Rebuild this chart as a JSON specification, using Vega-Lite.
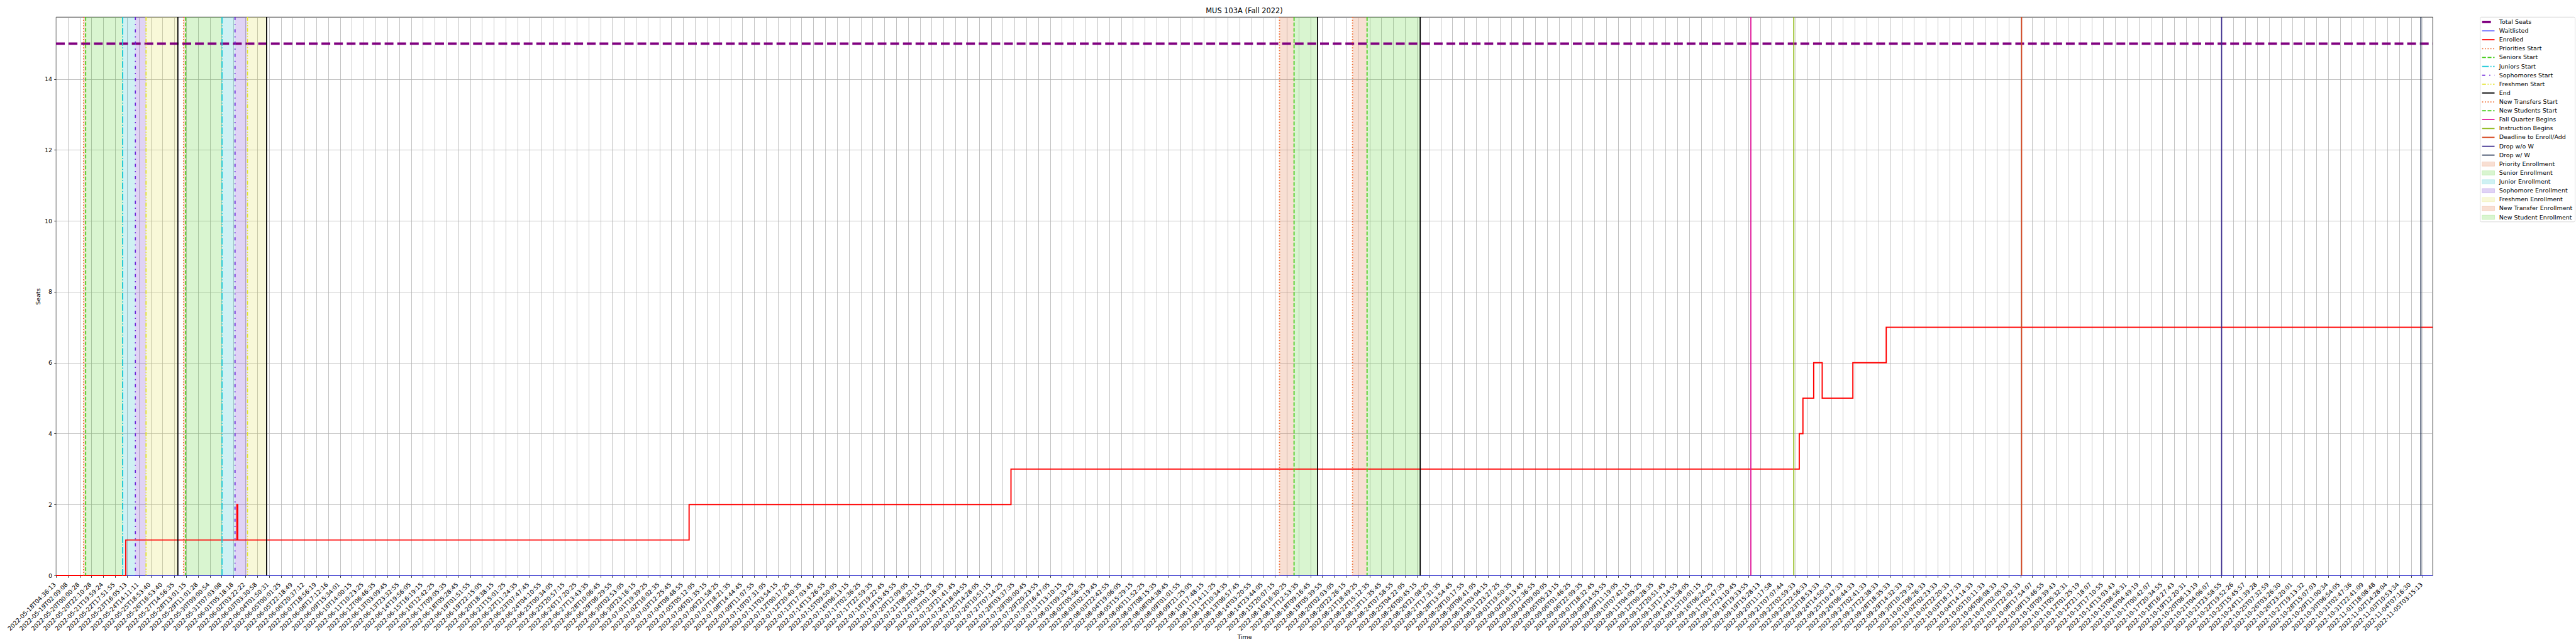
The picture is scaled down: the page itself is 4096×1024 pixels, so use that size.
{
  "$schema": "https://vega.github.io/schema/vega-lite/v6.json",
  "background": "white",
  "padding": {"left": 9, "top": 11, "right": 0, "bottom": 2},
  "config": {"font": "DejaVu Sans", "axisX": {"labelOverlap": false}},
  "params": [
    {"name": "tickLabels", "value": [
      "2022-05-18T04:36:13","2022-05-19T02:09:08","2022-05-20T00:00:28","2022-05-20T22:10:28","2022-05-21T19:59:24","2022-05-22T17:51:55","2022-05-23T16:05:13","2022-05-24T14:11:11","2022-05-25T18:53:40","2022-05-26T16:53:40",
      "2022-05-27T14:56:35","2022-05-28T13:01:15","2022-05-29T11:01:28","2022-05-30T09:00:54","2022-05-31T07:03:08","2022-06-01T05:18:18","2022-06-02T03:22:22","2022-06-03T03:30:58","2022-06-04T01:50:31","2022-06-05T00:01:25",
      "2022-06-05T22:18:49","2022-06-06T20:37:12","2022-06-07T18:56:19","2022-06-08T17:12:16","2022-06-09T15:34:01","2022-06-10T14:00:15","2022-06-11T10:23:25","2022-06-12T06:46:35","2022-06-13T03:09:45","2022-06-13T23:32:55",
      "2022-06-14T19:56:05","2022-06-15T16:19:15","2022-06-16T12:42:25","2022-06-17T09:05:35","2022-06-18T05:28:45","2022-06-19T01:51:55","2022-06-19T22:15:05","2022-06-20T18:38:15","2022-06-21T15:01:25","2022-06-22T11:24:35",
      "2022-06-23T07:47:45","2022-06-24T04:10:55","2022-06-25T00:34:05","2022-06-25T20:57:15","2022-06-26T17:20:25","2022-06-27T13:43:35","2022-06-28T10:06:45","2022-06-29T06:29:55","2022-06-30T02:53:05","2022-06-30T23:16:15",
      "2022-07-01T19:39:25","2022-07-02T16:02:35","2022-07-03T12:25:45","2022-07-04T08:48:55","2022-07-05T05:12:05","2022-07-06T01:35:15","2022-07-06T21:58:25","2022-07-07T18:21:35","2022-07-08T14:44:45","2022-07-09T11:07:55",
      "2022-07-10T07:31:05","2022-07-11T03:54:15","2022-07-12T00:17:25","2022-07-12T20:40:35","2022-07-13T17:03:45","2022-07-14T13:26:55","2022-07-15T09:50:05","2022-07-16T06:13:15","2022-07-17T02:36:25","2022-07-17T22:59:35",
      "2022-07-18T19:22:45","2022-07-19T15:45:55","2022-07-20T12:09:05","2022-07-21T08:32:15","2022-07-22T04:55:25","2022-07-23T01:18:35","2022-07-23T21:41:45","2022-07-24T18:04:55","2022-07-25T14:28:05","2022-07-26T10:51:15",
      "2022-07-27T07:14:25","2022-07-28T03:37:35","2022-07-29T00:00:45","2022-07-29T20:23:55","2022-07-30T16:47:05","2022-07-31T13:10:15","2022-08-01T09:33:25","2022-08-02T05:56:35","2022-08-03T02:19:45","2022-08-03T22:42:55",
      "2022-08-04T19:06:05","2022-08-05T15:29:15","2022-08-06T11:52:25","2022-08-07T08:15:35","2022-08-08T04:38:45","2022-08-09T01:01:55","2022-08-09T21:25:05","2022-08-10T17:48:15","2022-08-11T14:11:25","2022-08-12T10:34:35",
      "2022-08-13T06:57:45","2022-08-14T03:20:55","2022-08-14T23:44:05","2022-08-15T20:07:15","2022-08-16T16:30:25","2022-08-17T12:53:35","2022-08-18T09:16:45","2022-08-19T05:39:55","2022-08-20T02:03:05","2022-08-20T22:26:15",
      "2022-08-21T18:49:25","2022-08-22T15:12:35","2022-08-23T11:35:45","2022-08-24T07:58:55","2022-08-25T04:22:05","2022-08-26T00:45:15","2022-08-26T21:08:25","2022-08-27T17:31:35","2022-08-28T13:54:45","2022-08-29T10:17:55",
      "2022-08-30T06:41:05","2022-08-31T03:04:15","2022-08-31T23:27:25","2022-09-01T19:50:35","2022-09-02T16:13:45","2022-09-03T12:36:55","2022-09-04T09:00:05","2022-09-05T05:23:15","2022-09-06T01:46:25","2022-09-06T22:09:35",
      "2022-09-07T18:32:45","2022-09-08T14:55:55","2022-09-09T11:19:05","2022-09-10T07:42:15","2022-09-11T04:05:25","2022-09-12T00:28:35","2022-09-12T20:51:45","2022-09-13T17:14:55","2022-09-14T13:38:05","2022-09-15T10:01:15",
      "2022-09-16T06:24:25","2022-09-17T02:47:35","2022-09-17T23:10:45","2022-09-18T19:33:55","2022-09-19T15:28:13","2022-09-20T11:17:58","2022-09-21T07:07:44","2022-09-22T02:59:33","2022-09-22T22:56:33","2022-09-23T18:53:33",
      "2022-09-24T14:50:33","2022-09-25T10:47:33","2022-09-26T06:44:33","2022-09-27T02:41:33","2022-09-27T22:38:33","2022-09-28T18:35:33","2022-09-29T14:32:33","2022-09-30T10:29:33","2022-10-01T06:26:33","2022-10-02T02:23:33",
      "2022-10-02T22:20:33","2022-10-03T18:17:33","2022-10-04T14:14:33","2022-10-05T10:11:33","2022-10-06T06:08:33","2022-10-07T02:05:33","2022-10-07T22:02:33","2022-10-08T17:54:07","2022-10-09T13:46:55","2022-10-10T09:39:43",
      "2022-10-11T05:32:31","2022-10-12T01:25:19","2022-10-12T21:18:07","2022-10-13T17:10:55","2022-10-14T13:03:43","2022-10-15T08:56:31","2022-10-16T04:49:19","2022-10-17T00:42:07","2022-10-17T20:34:55","2022-10-18T16:27:43",
      "2022-10-19T12:20:31","2022-10-20T08:13:19","2022-10-21T04:06:07","2022-10-21T23:58:55","2022-10-22T19:52:26","2022-10-23T15:45:57","2022-10-24T11:39:28","2022-10-25T07:32:59","2022-10-26T03:26:30","2022-10-26T23:20:01",
      "2022-10-27T19:13:32","2022-10-28T15:07:03","2022-10-29T11:00:34","2022-10-30T06:54:05","2022-10-31T02:47:36","2022-10-31T22:41:09","2022-11-01T18:08:48","2022-11-02T14:28:04","2022-11-03T10:53:34","2022-11-04T07:16:30",
      "2022-11-05T03:15:13"
    ]}
  ],
  "datasets": {
    "spans": [
      {"name": "Priority Enrollment", "t": 2.33, "t2": 2.51},
      {"name": "Senior Enrollment", "t": 2.51, "t2": 5.63},
      {"name": "Junior Enrollment", "t": 5.63, "t2": 6.71},
      {"name": "Sophomore Enrollment", "t": 6.71, "t2": 7.61},
      {"name": "Freshmen Enrollment", "t": 7.61, "t2": 10.30},
      {"name": "Priority Enrollment", "t": 10.78, "t2": 10.96},
      {"name": "Senior Enrollment", "t": 10.96, "t2": 14.03},
      {"name": "Junior Enrollment", "t": 14.03, "t2": 15.13},
      {"name": "Sophomore Enrollment", "t": 15.13, "t2": 16.18},
      {"name": "Freshmen Enrollment", "t": 16.18, "t2": 17.80},
      {"name": "New Transfer Enrollment", "t": 103.39, "t2": 104.62},
      {"name": "New Student Enrollment", "t": 104.62, "t2": 106.61},
      {"name": "New Transfer Enrollment", "t": 109.56, "t2": 110.79},
      {"name": "New Student Enrollment", "t": 110.79, "t2": 115.28}
    ],
    "waitlisted": [
      {"t": 0, "seats": 0},
      {"t": 200.83, "seats": 0}
    ],
    "enrolled": [
      {"t": 0, "seats": 0},
      {"t": 5.90, "seats": 1},
      {"t": 15.29, "seats": 2},
      {"t": 15.36, "seats": 1},
      {"t": 53.5, "seats": 2},
      {"t": 80.7, "seats": 3},
      {"t": 147.31, "seats": 4},
      {"t": 147.62, "seats": 5},
      {"t": 148.53, "seats": 6},
      {"t": 149.25, "seats": 5},
      {"t": 151.84, "seats": 6},
      {"t": 154.66, "seats": 7},
      {"t": 200.83, "seats": 7}
    ],
    "total": [
      {"t": 0, "seats": 15},
      {"t": 200.83, "seats": 15}
    ],
    "events": [
      {"name": "Priorities Start", "t": 2.33},
      {"name": "Seniors Start", "t": 2.51},
      {"name": "Juniors Start", "t": 5.63},
      {"name": "Sophomores Start", "t": 6.71},
      {"name": "Freshmen Start", "t": 7.61},
      {"name": "End", "t": 10.30},
      {"name": "Priorities Start", "t": 10.78},
      {"name": "Seniors Start", "t": 10.96},
      {"name": "Juniors Start", "t": 14.03},
      {"name": "Sophomores Start", "t": 15.13},
      {"name": "Freshmen Start", "t": 16.18},
      {"name": "End", "t": 17.80},
      {"name": "New Transfers Start", "t": 103.39},
      {"name": "New Students Start", "t": 104.62},
      {"name": "End", "t": 106.61},
      {"name": "New Transfers Start", "t": 109.56},
      {"name": "New Students Start", "t": 110.79},
      {"name": "End", "t": 115.28},
      {"name": "Fall Quarter Begins", "t": 143.22},
      {"name": "Instruction Begins", "t": 146.85},
      {"name": "Deadline to Enroll/Add", "t": 166.1},
      {"name": "Drop w/o W", "t": 183.0},
      {"name": "Drop w/ W", "t": 199.84}
    ],
    "legend": [
      {"label": "Total Seats", "row": 0},
      {"label": "Waitlisted", "row": 1},
      {"label": "Enrolled", "row": 2},
      {"label": "Priorities Start", "row": 3},
      {"label": "Seniors Start", "row": 4},
      {"label": "Juniors Start", "row": 5},
      {"label": "Sophomores Start", "row": 6},
      {"label": "Freshmen Start", "row": 7},
      {"label": "End", "row": 8},
      {"label": "New Transfers Start", "row": 9},
      {"label": "New Students Start", "row": 10},
      {"label": "Fall Quarter Begins", "row": 11},
      {"label": "Instruction Begins", "row": 12},
      {"label": "Deadline to Enroll/Add", "row": 13},
      {"label": "Drop w/o W", "row": 14},
      {"label": "Drop w/ W", "row": 15},
      {"label": "Priority Enrollment", "row": 16},
      {"label": "Senior Enrollment", "row": 17},
      {"label": "Junior Enrollment", "row": 18},
      {"label": "Sophomore Enrollment", "row": 19},
      {"label": "Freshmen Enrollment", "row": 20},
      {"label": "New Transfer Enrollment", "row": 21},
      {"label": "New Student Enrollment", "row": 22}
    ]
  },
  "spacing": 75.3,
  "bounds": "flush",
  "resolve": {"scale": {"x": "independent", "y": "independent", "color": "independent", "fill": "independent", "stroke": "independent", "strokeDash": "independent"}},
  "hconcat": [
    {
      "width": 3779,
      "height": 888,
      "title": {"text": "MUS 103A (Fall 2022)", "fontSize": 11.4, "fontWeight": "normal", "font": "DejaVu Sans", "color": "black", "frame": "group", "anchor": "middle", "offset": 3},
      "view": {"stroke": "black", "strokeWidth": 0.76},
      "encoding": {
        "x": {"field": "t", "type": "quantitative", "title": "Time",
          "scale": {"domain": [0, 200.83], "nice": false, "zero": false},
          "axis": {
            "values": [0,1,2,3,4,5,6,7,8,9,10,11,12,13,14,15,16,17,18,19,20,21,22,23,24,25,26,27,28,29,30,31,32,33,34,35,36,37,38,39,40,41,42,43,44,45,46,47,48,49,50,51,52,53,54,55,56,57,58,59,60,61,62,63,64,65,66,67,68,69,70,71,72,73,74,75,76,77,78,79,80,81,82,83,84,85,86,87,88,89,90,91,92,93,94,95,96,97,98,99,100,101,102,103,104,105,106,107,108,109,110,111,112,113,114,115,116,117,118,119,120,121,122,123,124,125,126,127,128,129,130,131,132,133,134,135,136,137,138,139,140,141,142,143,144,145,146,147,148,149,150,151,152,153,154,155,156,157,158,159,160,161,162,163,164,165,166,167,168,169,170,171,172,173,174,175,176,177,178,179,180,181,182,183,184,185,186,187,188,189,190,191,192,193,194,195,196,197,198,199,200],
            "labelExpr": "tickLabels[datum.value]",
            "labelAngle": -45, "labelAlign": "right", "labelBaseline": "alphabetic",
            "labelPadding": 11.5, "labelOverlap": false, "labelBound": false, "labelFlush": false,
            "labelFontSize": 9.5, "labelColor": "black", "labelFont": "DejaVu Sans",
            "tickSize": 3.3, "tickColor": "black", "tickWidth": 0.76,
            "grid": true, "gridColor": "#b0b0b0", "gridWidth": 0.76,
            "domain": false,
            "title": "Time", "titleFontSize": 9.5, "titleFontWeight": "normal", "titleColor": "black", "titleFont": "DejaVu Sans", "titlePadding": 3
          }
        }
      },
      "layer": [
        {
          "data": {"name": "spans"},
          "mark": {"type": "rect", "opacity": 0.2},
          "encoding": {
            "x2": {"field": "t2"},
            "fill": {"field": "name", "type": "nominal", "legend": null,
              "scale": {
                "domain": ["Priority Enrollment", "Senior Enrollment", "Junior Enrollment", "Sophomore Enrollment", "Freshmen Enrollment", "New Transfer Enrollment", "New Student Enrollment"],
                "range": ["#dc5f23", "#41cd14", "#10bac4", "#6423cd", "#dcdc3c", "#dc5f23", "#41cd14"]
              }
            }
          }
        },
        {
          "data": {"name": "waitlisted"},
          "mark": {"type": "line", "color": "#0000ff", "strokeWidth": 0.95},
          "encoding": {
            "y": {"field": "seats", "type": "quantitative", "title": "Seats",
              "scale": {"domain": [0, 15.75], "nice": false, "zero": false},
              "axis": {
                "values": [0, 2, 4, 6, 8, 10, 12, 14], "format": "d",
                "labelFontSize": 9.5, "labelColor": "black", "labelFont": "DejaVu Sans", "labelPadding": 3.2,
                "tickSize": 3.3, "tickColor": "black", "tickWidth": 0.76,
                "grid": true, "gridColor": "#b0b0b0", "gridWidth": 0.76,
                "domain": false,
                "title": "Seats", "titleFontSize": 9.5, "titleFontWeight": "normal", "titleColor": "black", "titleFont": "DejaVu Sans", "titlePadding": 4.5
              }
            }
          }
        },
        {
          "data": {"name": "enrolled"},
          "mark": {"type": "line", "color": "#ff0000", "strokeWidth": 1.9, "interpolate": "step-after"},
          "encoding": {
            "y": {"field": "seats", "type": "quantitative", "title": "Seats"}
          }
        },
        {
          "data": {"name": "total"},
          "mark": {"type": "line", "color": "#800080", "strokeWidth": 3.8, "strokeDash": [14, 6.1]},
          "encoding": {
            "y": {"field": "seats", "type": "quantitative", "title": "Seats"}
          }
        },
        {
          "data": {"name": "events"},
          "mark": {"type": "rule", "strokeWidth": 1.75},
          "encoding": {
            "color": {"field": "name", "type": "nominal", "legend": null,
              "scale": {
                "domain": ["Priorities Start", "Seniors Start", "Juniors Start", "Sophomores Start", "Freshmen Start", "End", "New Transfers Start", "New Students Start", "Fall Quarter Begins", "Instruction Begins", "Deadline to Enroll/Add", "Drop w/o W", "Drop w/ W"],
                "range": ["#ee6a2f", "#44cc1a", "#16c7d6", "#6a22d8", "#e3e32e", "#000000", "#ee6a2f", "#44cc1a", "#e0169b", "#8db815", "#d5471f", "#3a2b8c", "#2e3d5a"]
              }
            },
            "strokeDash": {"field": "name", "type": "nominal", "legend": null,
              "scale": {
                "domain": ["Priorities Start", "Seniors Start", "Juniors Start", "Sophomores Start", "Freshmen Start", "End", "New Transfers Start", "New Students Start", "Fall Quarter Begins", "Instruction Begins", "Deadline to Enroll/Add", "Drop w/o W", "Drop w/ W"],
                "range": [[1.66, 2.73], [6.1, 2.65], [10.6, 2.65, 1.66, 2.65], [5, 6.4, 1.66, 6.4], [6.1, 2.65, 1.66, 2.65, 1.66, 2.65], [1, 0], [1.66, 2.73], [6.1, 2.65], [1, 0], [1, 0], [1, 0], [1, 0], [1, 0]]
              }
            }
          }
        }
      ]
    },
    {
      "width": 151,
      "height": 325.5,
      "view": {"stroke": "#cccccc", "strokeWidth": 0.76, "cornerRadius": 2, "fill": "white"},
      "data": {"name": "legend"},
      "encoding": {
        "y": {"field": "row", "type": "quantitative", "scale": {"domain": [-0.56, 22.49], "reverse": true, "nice": false, "zero": false}, "axis": null}
      },
      "layer": [
        {
          "transform": [{"filter": "datum.row == 0"}],
          "mark": {"type": "rule", "color": "#800080", "strokeWidth": 3.8, "strokeDash": [14, 6.1]},
          "encoding": {
            "x": {"datum": 3.4, "type": "quantitative", "scale": {"domain": [0, 151], "nice": false, "zero": false}, "axis": null},
            "x2": {"datum": 23.2}
          }
        },
        {
          "transform": [{"filter": "datum.row == 1"}],
          "mark": {"type": "rule", "color": "#0000ff", "strokeWidth": 0.95},
          "encoding": {
            "x": {"datum": 3.4, "type": "quantitative"},
            "x2": {"datum": 23.2}
          }
        },
        {
          "transform": [{"filter": "datum.row == 2"}],
          "mark": {"type": "rule", "color": "#ff0000", "strokeWidth": 1.9},
          "encoding": {
            "x": {"datum": 3.4, "type": "quantitative"},
            "x2": {"datum": 23.2}
          }
        },
        {
          "transform": [{"filter": "datum.row >= 3 && datum.row <= 15"}],
          "mark": {"type": "rule", "strokeWidth": 1.75},
          "encoding": {
            "x": {"datum": 3.4, "type": "quantitative"},
            "x2": {"datum": 23.2},
            "color": {"field": "label", "type": "nominal", "legend": null,
              "scale": {
                "domain": ["Priorities Start", "Seniors Start", "Juniors Start", "Sophomores Start", "Freshmen Start", "End", "New Transfers Start", "New Students Start", "Fall Quarter Begins", "Instruction Begins", "Deadline to Enroll/Add", "Drop w/o W", "Drop w/ W"],
                "range": ["#ee6a2f", "#44cc1a", "#16c7d6", "#6a22d8", "#e3e32e", "#000000", "#ee6a2f", "#44cc1a", "#e0169b", "#8db815", "#d5471f", "#3a2b8c", "#2e3d5a"]
              }
            },
            "strokeDash": {"field": "label", "type": "nominal", "legend": null,
              "scale": {
                "domain": ["Priorities Start", "Seniors Start", "Juniors Start", "Sophomores Start", "Freshmen Start", "End", "New Transfers Start", "New Students Start", "Fall Quarter Begins", "Instruction Begins", "Deadline to Enroll/Add", "Drop w/o W", "Drop w/ W"],
                "range": [[1.66, 2.73], [6.1, 2.65], [10.6, 2.65, 1.66, 2.65], [5, 6.4, 1.66, 6.4], [6.1, 2.65, 1.66, 2.65, 1.66, 2.65], [1, 0], [1.66, 2.73], [6.1, 2.65], [1, 0], [1, 0], [1, 0], [1, 0], [1, 0]]
              }
            }
          }
        },
        {
          "transform": [{"filter": "datum.row >= 16"}],
          "mark": {"type": "point", "shape": "M-1,-0.343L1,-0.343L1,0.343L-1,0.343Z", "filled": true, "size": 392, "fillOpacity": 0.2, "strokeOpacity": 0.25, "strokeWidth": 0.7},
          "encoding": {
            "x": {"datum": 13.3, "type": "quantitative"},
            "fill": {"field": "label", "type": "nominal", "legend": null,
              "scale": {
                "domain": ["Priority Enrollment", "Senior Enrollment", "Junior Enrollment", "Sophomore Enrollment", "Freshmen Enrollment", "New Transfer Enrollment", "New Student Enrollment"],
                "range": ["#dc5f23", "#41cd14", "#10bac4", "#6423cd", "#dcdc3c", "#dc5f23", "#41cd14"]
              }
            },
            "stroke": {"field": "label", "type": "nominal", "legend": null,
              "scale": {
                "domain": ["Priority Enrollment", "Senior Enrollment", "Junior Enrollment", "Sophomore Enrollment", "Freshmen Enrollment", "New Transfer Enrollment", "New Student Enrollment"],
                "range": ["#dc5f23", "#41cd14", "#10bac4", "#6423cd", "#dcdc3c", "#dc5f23", "#41cd14"]
              }
            }
          }
        },
        {
          "mark": {"type": "text", "align": "left", "baseline": "middle", "fontSize": 9.5, "font": "DejaVu Sans", "color": "black"},
          "encoding": {
            "x": {"datum": 30.4, "type": "quantitative"},
            "text": {"field": "label"}
          }
        }
      ]
    }
  ]
}
